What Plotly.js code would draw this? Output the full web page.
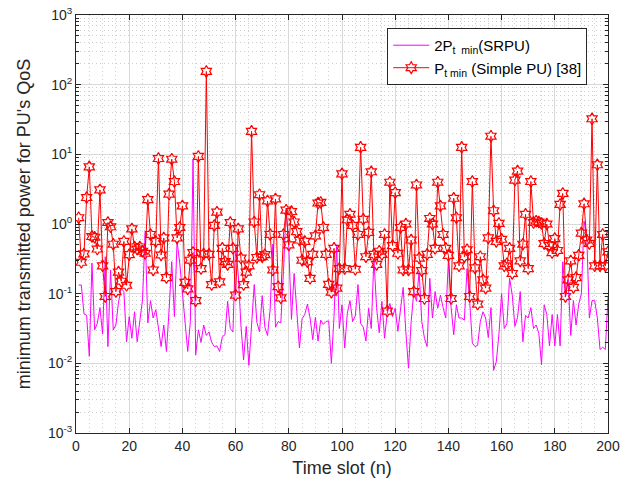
<!DOCTYPE html>
<html>
<head>
<meta charset="utf-8">
<script src="https://cdn.plot.ly/plotly-3.0.1.min.js"></script>
<style>
  html, body { margin: 0; padding: 0; background: #ffffff; }
  #chart { width: 633px; height: 485px; }
</style>
</head>
<body>
<div id="chart"></div>
<script>
// 2P_t min (SRPU) values, time slots 1..200
const srpuPower = [
  0.133, 0.133, 0.0513, 0.0490, 0.0126, 0.275, 0.0302, 0.0372, 0.0631, 0.0263,
  0.339, 0.0174, 0.219, 0.0302, 0.0355, 0.0759, 0.120, 0.107, 0.0204, 0.0468,
  0.0229, 0.0550, 0.0204, 0.0447, 0.0813, 0.759, 0.0380, 0.0794, 0.0447, 0.0589,
  0.0316, 0.0174, 0.0355, 0.0148, 0.0589, 0.288, 0.0468, 0.562, 0.275, 0.0955,
  0.0316, 0.0148, 0.0398, 8.32, 0.0132, 0.0302, 0.0200, 0.0355, 0.0251, 0.0282,
  0.0200, 0.0174, 0.0178, 0.0148, 0.0240, 0.0257, 0.0776, 0.0316, 0.0282, 0.501,
  0.186, 0.0355, 0.0112, 0.0339, 0.00933, 0.0380, 0.135, 0.0389, 0.0282, 0.0933,
  0.0331, 0.0251, 0.0603, 0.513, 0.0331, 0.0398, 0.0380, 0.209, 1.66, 0.457,
  0.0427, 0.195, 0.0617, 0.0166, 0.0437, 0.0501, 0.0708, 0.0447, 0.0219, 0.0457,
  0.0209, 0.0417, 0.0363, 0.0398, 0.0407, 0.0100, 0.0468, 0.501, 0.0316, 0.0692,
  0.0166, 0.0525, 0.0794, 0.0398, 0.0479, 0.135, 0.0372, 0.0331, 0.0209, 0.0617,
  0.0316, 0.316, 0.0631, 0.0275, 0.0776, 0.0229, 0.0525, 0.0724, 0.0468, 0.0617,
  0.0288, 0.0631, 0.123, 0.0282, 0.00851, 0.0398, 0.107, 0.0776, 0.209, 0.0398,
  0.0229, 0.0174, 0.166, 0.0447, 0.107, 0.0617, 0.0955, 0.0631, 0.0447, 0.302,
  0.0646, 0.0257, 0.0692, 0.0447, 0.0447, 0.0417, 0.229, 0.0776, 0.0195, 0.0174,
  0.0182, 0.0398, 0.0550, 0.0447, 0.0234, 0.0631, 0.00794, 0.0105, 0.0263, 0.100,
  0.0316, 0.0372, 0.166, 0.0955, 0.0339, 0.0457, 0.107, 0.0204, 0.0490, 0.0447,
  0.0631, 0.0316, 0.0355, 0.0269, 0.00955, 0.0692, 0.0501, 0.0178, 0.0501, 0.0178,
  0.0501, 0.0178, 0.288, 0.0891, 0.158, 0.0251, 0.0794, 0.0355, 0.0708, 0.100,
  1.10, 0.692, 0.0447, 0.0794, 0.0794, 0.0447, 0.0158, 0.0170, 0.0158, 0.0891
];

// P_t min (Simple PU) [38] values, time slots 1..200
const simplePuPower = [
  1.23, 0.282, 0.372, 2.40, 6.61, 0.661, 0.646, 0.437, 3.09, 0.251,
  0.0912, 1.05, 0.912, 0.513, 0.107, 0.204, 0.151, 0.562, 0.132, 0.363,
  0.851, 0.468, 0.437, 0.468, 0.407, 0.380, 2.24, 0.708, 0.219, 0.562,
  8.71, 0.359, 0.631, 0.170, 2.69, 8.51, 4.07, 0.631, 0.891, 1.82,
  0.145, 0.117, 0.302, 0.389, 0.0794, 9.33, 0.229, 0.372, 155, 0.367,
  0.135, 0.955, 1.48, 0.148, 0.447, 0.288, 0.263, 1.05, 0.447, 0.0955,
  0.851, 0.324, 0.135, 0.204, 0.251, 21.4, 1.07, 0.331, 2.63, 0.339,
  0.363, 2.14, 0.708, 0.219, 2.29, 0.126, 0.0871, 0.708, 1.58, 0.501,
  1.51, 1.07, 0.776, 0.589, 0.302, 0.562, 0.288, 0.166, 0.367, 0.676,
  2.00, 2.04, 0.891, 0.367, 0.136, 0.105, 0.447, 0.120, 0.229, 5.25,
  0.229, 1.15, 1.38, 0.955, 0.224, 0.708, 12.6, 1.17, 0.339, 0.759,
  5.62, 0.367, 0.263, 0.407, 0.367, 0.708, 0.0562, 3.98, 0.490, 2.82,
  0.380, 0.891, 0.219, 1.00, 0.219, 0.589, 0.107, 3.63, 0.324, 0.214,
  0.0851, 0.367, 1.20, 1.00, 0.447, 3.98, 1.82, 0.708, 0.447, 0.355,
  0.0851, 2.34, 1.23, 0.251, 12.6, 0.339, 0.427, 0.0912, 4.07, 0.234,
  0.0708, 0.339, 0.158, 0.120, 0.631, 18.2, 1.55, 0.562, 1.02, 0.603,
  0.251, 0.269, 0.447, 0.195, 4.27, 5.75, 0.295, 0.513, 1.38, 0.229,
  4.07, 1.05, 1.10, 1.07, 1.02, 0.525, 1.00, 0.490, 0.389, 0.617,
  0.417, 1.91, 2.75, 0.0912, 0.158, 0.295, 0.123, 0.170, 0.355, 0.741,
  1.95, 0.589, 0.525, 32.4, 0.251, 7.08, 0.251, 0.708, 0.251, 0.398
];

const timeSlots = srpuPower.map((_, i) => i + 1);

const yTickVals = [0.001, 0.01, 0.1, 1, 10, 100, 1000];
const yTickText = ['10<sup>-3</sup>', '10<sup>-2</sup>', '10<sup>-1</sup>', '10<sup>0</sup>',
                   '10<sup>1</sup>', '10<sup>2</sup>', '10<sup>3</sup>'];
const xTickVals = [0, 20, 40, 60, 80, 100, 120, 140, 160, 180, 200];

const seriesNames = ['2P<sub>t\u00a0\u00a0min</sub>(SRPU)', 'P<sub>t min</sub> (Simple PU) [38]'];

// minor log tick positions (2..9 x 10^k)
const yMinor = [];
for (let k = -3; k < 3; k++) {
  for (let m = 2; m <= 9; m++) yMinor.push(m * Math.pow(10, k));
}

const axisColor = '#262626';
const fontFam = 'Liberation Sans, Arial, Helvetica, sans-serif';
const minorGrid = { showgrid: true, gridcolor: '#cfcfcf', griddash: '1px,3px', gridwidth: 1 };

const traces = [
  {
    x: timeSlots, y: srpuPower, type: 'scatter', mode: 'lines',
    name: seriesNames[0],
    line: { color: '#FF00FF', width: 1 }
  },
  {
    x: timeSlots, y: simplePuPower, type: 'scatter', mode: 'lines+markers',
    name: seriesNames[1],
    line: { color: '#FF0000', width: 1 },
    marker: { symbol: 'hexagram-open', size: 9, color: '#FF0000', line: { width: 1.2, color: '#FF0000' } }
  }
];

const layout = {
  width: 633, height: 485,
  margin: { l: 76, r: 25, t: 15, b: 52 },
  paper_bgcolor: '#ffffff', plot_bgcolor: '#ffffff',
  font: { family: fontFam, color: axisColor, size: 14 },
  showlegend: true,
  legend: {
    x: 0.585, y: 0.969, xanchor: 'left', yanchor: 'top',
    bgcolor: '#ffffff', bordercolor: axisColor, borderwidth: 1,
    font: { family: fontFam, size: 15, color: '#000000' },
    itemwidth: 36, tracegroupgap: 0
  },
  xaxis: {
    range: [0, 200], tickmode: 'array', tickvals: xTickVals,
    ticks: 'inside', ticklen: 5, tickcolor: axisColor,
    showline: true, linecolor: axisColor, linewidth: 1, mirror: 'ticks',
    showgrid: true, gridcolor: '#d9d9d9', gridwidth: 1,
    zeroline: false,
    tickfont: { size: 14, color: axisColor },
    minor: Object.assign({ dtick: 5, tick0: 0, ticks: '' }, minorGrid),
    title: { text: 'Time slot (n)', font: { size: 18, color: axisColor }, standoff: 8 }
  },
  yaxis: {
    type: 'log', range: [-3, 3], tickmode: 'array', tickvals: yTickVals, ticktext: yTickText,
    ticks: 'inside', ticklen: 5, tickcolor: axisColor,
    showline: true, linecolor: axisColor, linewidth: 1, mirror: 'ticks',
    showgrid: true, gridcolor: '#d9d9d9', gridwidth: 1,
    zeroline: false,
    tickfont: { size: 14, color: axisColor },
    minor: Object.assign({ tickmode: 'array', tickvals: yMinor, ticks: 'inside', ticklen: 3, tickcolor: axisColor }, minorGrid),
    title: { text: "minimum transmitted power for PU's QoS", font: { size: 18, color: axisColor }, standoff: 12 }
  }
};

Plotly.newPlot('chart', traces, layout, { displayModeBar: false, staticPlot: true });
</script>
</body>
</html>
